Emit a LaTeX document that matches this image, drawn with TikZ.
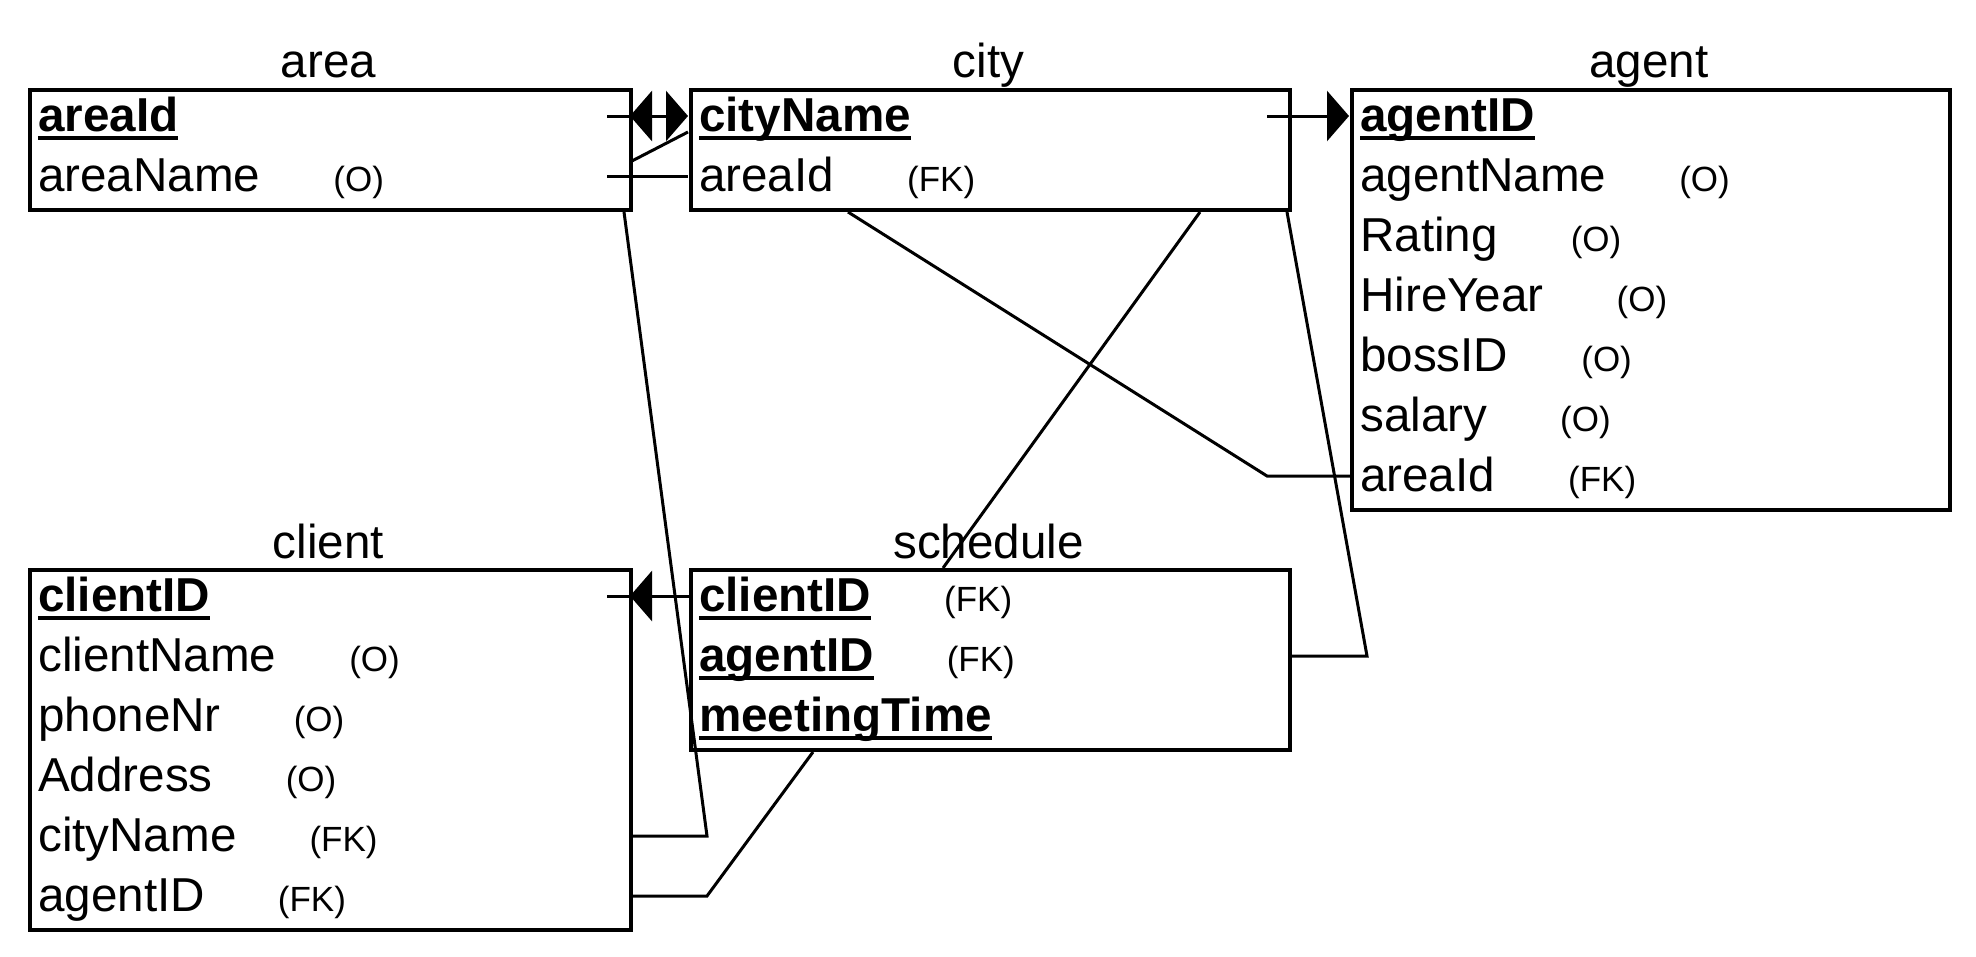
\documentclass[tikz,border=0pt]{standalone}
\usepackage{fontspec}
\setmainfont{Liberation Sans}
\usetikzlibrary{arrows.meta}
\newcommand\ulx[1]{\setbox0=\hbox{#1}\rlap{\rule[-9pt]{\wd0}{4pt}}\box0}
\newcommand\pkey[1]{\textbf{\ulx{#1}}}
\newcommand\anno[1]{\hspace{73pt}{\fontsize{35pt}{40pt}\selectfont #1}}
\tikzset{
  tbl/.style={draw, line width=4pt, rectangle, anchor=north west, inner sep=0pt},
  fld/.style={anchor=base west, inner sep=0pt, font=\fontsize{47.6pt}{57pt}\selectfont},
  ttl/.style={anchor=base, inner sep=0pt, font=\fontsize{47.6pt}{57pt}\selectfont},
  conn/.style={line width=3pt},
  tip/.style={-{Triangle[length=22pt,width=50pt]}}
}
\begin{document}
\begin{tikzpicture}[x=1pt,y=-1pt]
\useasboundingbox (0,0) rectangle (1976,956);
% boxes
\node[tbl, minimum width=601pt, minimum height=120pt] (area) at (28,88) {};
\node[tbl, minimum width=599pt, minimum height=120pt] (city) at (689,88) {};
\node[tbl, minimum width=598pt, minimum height=420pt] (agent) at (1350,88) {};
\node[tbl, minimum width=601pt, minimum height=360pt] (client) at (28,568) {};
\node[tbl, minimum width=599pt, minimum height=180pt] (schedule) at (689,568) {};
% titles
\node[ttl] (areaT) at (328.5,77) {area};
\node[ttl] (cityT) at (988.5,77) {city};
\node[ttl] (agentT) at (1649,77) {agent};
\node[ttl] (clientT) at (328.5,558) {client};
\node[ttl] (scheduleT) at (988.5,558) {schedule};
% area fields
\node[fld] (area1) at (38,131) {\pkey{areaId}};
\node[fld] (area2) at (38,191) {areaName\anno{(O)}};
% city fields
\node[fld] (city1) at (699,131) {\pkey{cityName}};
\node[fld] (city2) at (699,191) {areaId\anno{(FK)}};
% agent fields
\node[fld] (agent1) at (1360,131) {\pkey{agentID}};
\node[fld] (agent2) at (1360,191) {agentName\anno{(O)}};
\node[fld] (agent3) at (1360,251) {Rating\anno{(O)}};
\node[fld] (agent4) at (1360,311) {HireYear\anno{(O)}};
\node[fld] (agent5) at (1360,371) {bossID\anno{(O)}};
\node[fld] (agent6) at (1360,431) {salary\anno{(O)}};
\node[fld] (agent7) at (1360,491) {areaId\anno{(FK)}};
% client fields
\node[fld] (client1) at (38,611) {\pkey{clientID}};
\node[fld] (client2) at (38,671) {clientName\anno{(O)}};
\node[fld] (client3) at (38,731) {phoneNr\anno{(O)}};
\node[fld] (client4) at (38,791) {Address\anno{(O)}};
\node[fld] (client5) at (38,851) {cityName\anno{(FK)}};
\node[fld] (client6) at (38,911) {agentID\anno{(FK)}};
% schedule fields
\node[fld] (schedule1) at (699,611) {\pkey{clientID}\anno{(FK)}};
\node[fld] (schedule2) at (699,671) {\pkey{agentID}\anno{(FK)}};
\node[fld] (schedule3) at (699,731) {\pkey{meetingTime}};
% connector points
\coordinate (a1in) at (607,116);
\coordinate (a1e) at (630,116);
\coordinate (c1w) at (688,116);
\coordinate (a2in) at (607,176);
\coordinate (c2w) at (688,176);
\coordinate (slA) at (630,162);
\coordinate (slB) at (688,132);
\coordinate (c1in) at (1267,116);
\coordinate (ag1w) at (1349,116);
\coordinate (cl1in) at (607,596);
\coordinate (cl1e) at (630,596);
\coordinate (s1w) at (689,596);
\coordinate (bF) at (707,836);
\coordinate (cl5e) at (629,836);
\coordinate (bH) at (707,896);
\coordinate (cl6e) at (629,896);
\coordinate (bI) at (1367,656);
\coordinate (s2e) at (1288,656);
\coordinate (bJ) at (1267,476);
\coordinate (ag7w) at (1350,476);
% connectors
\draw[conn] (a1in) -- (a1e);
\draw[conn, {Triangle[length=22pt,width=50pt]}-{Triangle[length=22pt,width=50pt]}] (a1e) -- (c1w);
\draw[conn] (a2in) -- (c2w);
\draw[conn] (slA) -- (slB);
\draw[conn, tip] (c1in) -- (ag1w);
\draw[conn] (cl1in) -- (cl1e);
\draw[conn, tip] (s1w) -- (cl1e);
\draw[conn] ([xshift=-9pt]area.south east) -- (bF) -- (cl5e);
\draw[conn] ([xshift=511pt]city.south west) -- ([xshift=254pt]schedule.north west);
\draw[conn] ([xshift=124pt]schedule.south west) -- (bH) -- (cl6e);
\draw[conn] ([xshift=-5pt]city.south east) -- (bI) -- (s2e);
\draw[conn] ([xshift=159pt]city.south west) -- (bJ) -- (ag7w);
\end{tikzpicture}
\end{document}
